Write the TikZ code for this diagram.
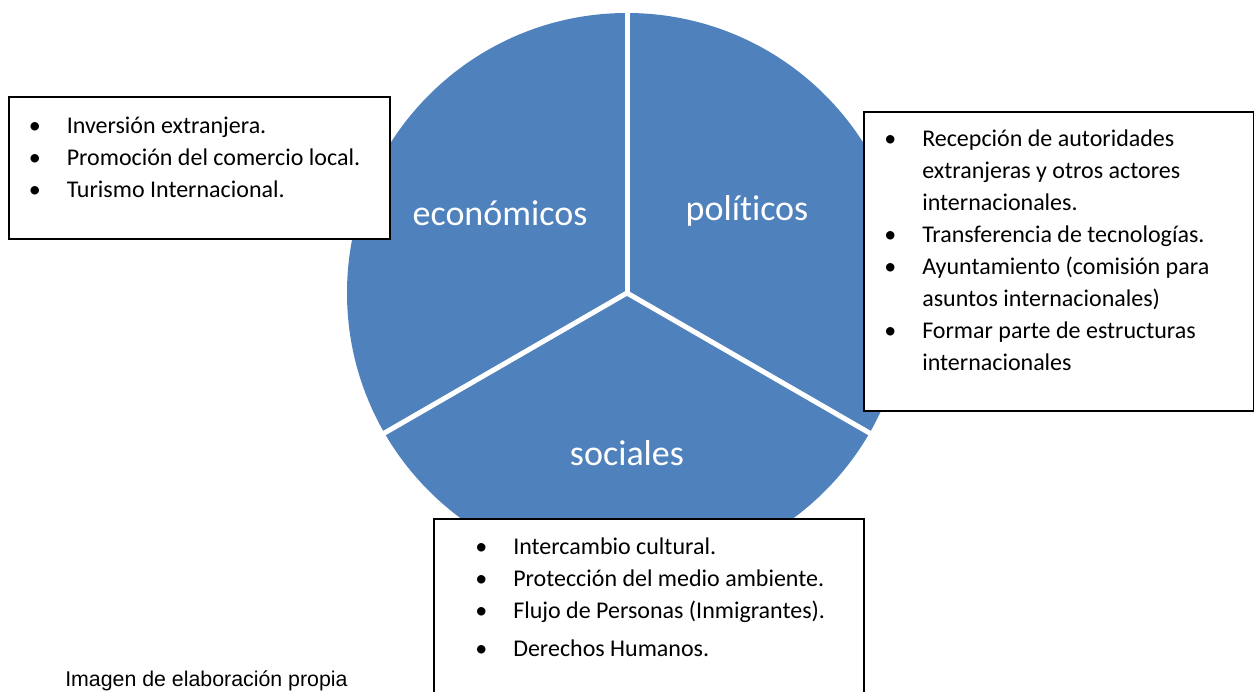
\documentclass[tikz,border=0pt]{standalone}
\usepackage{fontspec}
\setmainfont[Ligatures=NoCommon]{Carlito}
\newfontfamily\captionfont{Liberation Sans}
\definecolor{secblue}{HTML}{4F81BD}
\tikzset{
  sector/.style={text=white, font=\fontsize{27}{32}\selectfont, anchor=base},
  divider/.style={draw=white, line width=3.75pt},
  listbox/.style={draw=black, line width=1.5pt, fill=white, anchor=north west, inner sep=0pt},
  listtext/.style={font=\fontsize{18}{24}\selectfont, align=left, anchor=north west, inner sep=0pt}
}
\newcommand{\bul}{\strut\makebox[28.5pt][l]{\textbullet}}
\newcommand{\cont}{\strut\hspace*{28.5pt}}

\begin{document}
\begin{tikzpicture}[x=0.75pt, y=-0.75pt]
\useasboundingbox (0,0) rectangle (1254,692);
\clip (0,0) rectangle (1254,692);
% circle in three sectors
\coordinate (c) at (627,293);
\fill[secblue] (c) circle (210pt);
\draw[divider] (c) -- ++(90:212pt);
\draw[divider] (c) -- ++(210:212pt);
\draw[divider] (c) -- ++(330:212pt);
\node[sector] (econ) at (500,225) {económicos};
\node[sector] (poli) at (747,220) {políticos};
\node[sector] (soc) at (627,465) {sociales};
% left box
\node[listbox, minimum width=285.75pt, minimum height=106.5pt] (econbox) at (8,96) {};
\node[listtext] (econlist) at (28.5,110.6) {\bul Inversión extranjera.\\
  \bul Promoción del comercio local.\\
  \bul Turismo Internacional.};
% right box
\node[listbox, minimum width=292.5pt, minimum height=224.25pt] (polibox) at (863,111) {};
\node[listtext] (polilist) at (884,123.6) {\bul Recepción de autoridades\\
  \cont extranjeras y otros actores\\
  \cont internacionales.\\
  \bul Transferencia de tecnologías.\\
  \bul Ayuntamiento (comisión para\\
  \cont asuntos internacionales)\\
  \bul Formar parte de estructuras\\
  \cont internacionales};
% bottom box
\node[listbox, minimum width=322.5pt, minimum height=150pt] (socbox) at (433,518) {};
\node[listtext] (soclist) at (475,531.6) {\bul Intercambio cultural.\\
  \bul Protección del medio ambiente.\\
  \bul Flujo de Personas (Inmigrantes).\\[5pt]
  \bul Derechos Humanos.};
% caption
\node[anchor=base west, inner sep=0pt, font=\captionfont\fontsize{16}{19}\selectfont] (caption) at (65,686) {Imagen de elaboración propia};
\end{tikzpicture}
\end{document}
